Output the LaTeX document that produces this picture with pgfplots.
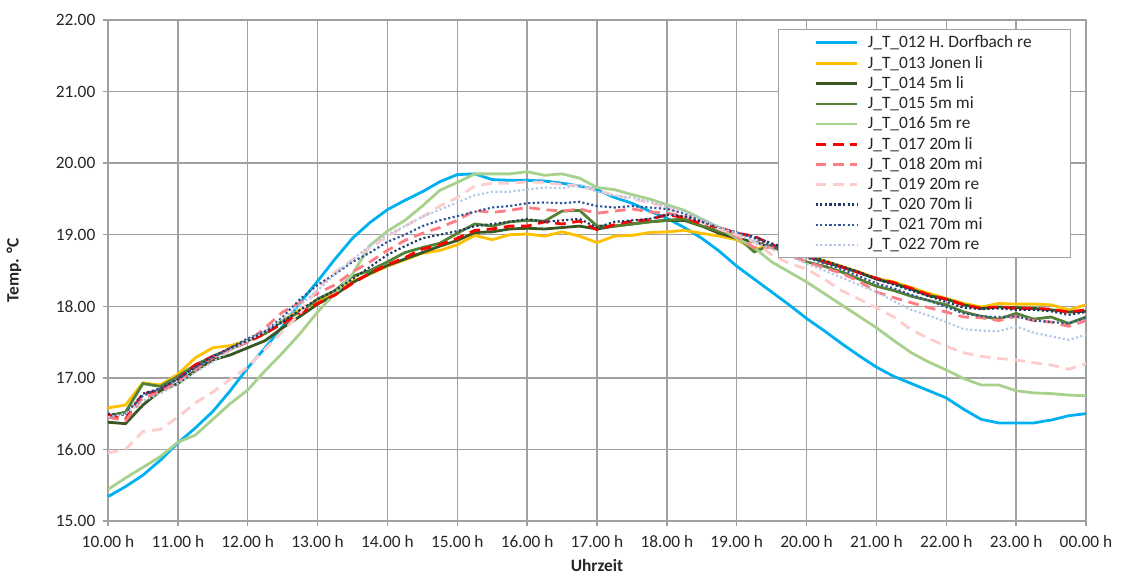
\documentclass[border=0pt]{standalone}
\usepackage{fontspec}
\setmainfont{Carlito}
\usepackage{pgfplots}
\usepackage{pgfplotstable}
\pgfplotsset{compat=1.18}

\definecolor{c012}{HTML}{00B0F0}
\definecolor{c013}{HTML}{FFC000}
\definecolor{c014}{HTML}{385723}
\definecolor{c015}{HTML}{548235}
\definecolor{c016}{HTML}{A9D18E}
\definecolor{c017}{HTML}{FF0000}
\definecolor{c018}{HTML}{FF7C80}
\definecolor{c019}{HTML}{FFCCCC}
\definecolor{c020}{HTML}{1F3864}
\definecolor{c021}{HTML}{2F5597}
\definecolor{c022}{HTML}{B4C7E7}
\definecolor{gridgray}{HTML}{A0A0A0}

% Temperatures per logger, every 15 minutes (24 = midnight)
\pgfplotstableread{
t     a012  a013  a014  a015  a016  a017  a018  a019  a020  a021  a022
10.00 15.34 16.58 16.38 16.47 15.44 16.48 16.45 15.95 16.50 16.45 16.45
10.25 15.48 16.62 16.36 16.52 15.60 16.42 16.40 16.00 16.48 16.50 16.50
10.50 15.64 16.93 16.62 16.92 15.75 16.78 16.72 16.25 16.78 16.75 16.68
10.75 15.85 16.90 16.82 16.88 15.90 16.82 16.80 16.28 16.85 16.85 16.78
11.00 16.09 17.05 16.92 17.02 16.10 16.98 16.95 16.45 16.98 16.98 16.92
11.25 16.30 17.28 17.10 17.18 16.20 17.18 17.12 16.65 17.15 17.15 17.08
11.50 16.53 17.42 17.25 17.30 16.42 17.30 17.28 16.80 17.30 17.28 17.22
11.75 16.82 17.45 17.32 17.40 16.64 17.40 17.40 16.98 17.42 17.42 17.38
12.00 17.14 17.52 17.42 17.52 16.83 17.50 17.50 17.15 17.52 17.55 17.52
12.25 17.42 17.62 17.52 17.62 17.10 17.62 17.70 17.40 17.65 17.65 17.65
12.50 17.72 17.80 17.70 17.80 17.35 17.76 17.92 17.65 17.78 17.85 17.82
12.75 18.05 17.95 17.86 17.92 17.62 17.90 18.05 17.90 17.95 18.10 18.02
13.00 18.35 18.06 18.03 18.10 17.92 18.04 18.18 18.25 18.10 18.30 18.22
13.25 18.66 18.18 18.16 18.22 18.18 18.16 18.30 18.48 18.22 18.45 18.45
13.50 18.95 18.35 18.33 18.42 18.45 18.32 18.48 18.65 18.38 18.62 18.65
13.75 19.17 18.45 18.46 18.50 18.85 18.46 18.62 18.82 18.55 18.75 18.85
14.00 19.35 18.56 18.57 18.62 19.05 18.58 18.78 18.97 18.72 18.90 19.00
14.25 19.48 18.65 18.66 18.75 19.20 18.68 18.92 19.12 18.84 19.00 19.12
14.50 19.60 18.74 18.75 18.82 19.40 18.80 19.02 19.25 18.95 19.12 19.25
14.75 19.74 18.78 18.84 18.88 19.62 18.86 19.10 19.40 19.00 19.20 19.35
15.00 19.84 18.86 18.92 19.02 19.73 18.95 19.20 19.52 19.05 19.26 19.45
15.25 19.85 18.99 19.03 19.15 19.85 19.06 19.34 19.68 19.12 19.32 19.55
15.50 19.77 18.93 19.04 19.12 19.85 19.08 19.31 19.72 19.15 19.38 19.60
15.75 19.76 19.00 19.08 19.18 19.85 19.12 19.34 19.72 19.18 19.40 19.60
16.00 19.76 19.01 19.09 19.20 19.88 19.12 19.38 19.74 19.22 19.44 19.63
16.25 19.75 18.98 19.08 19.19 19.83 19.18 19.35 19.73 19.18 19.45 19.66
16.50 19.72 19.04 19.10 19.33 19.85 19.15 19.33 19.70 19.20 19.44 19.65
16.75 19.68 18.98 19.12 19.34 19.79 19.19 19.36 19.68 19.22 19.46 19.70
17.00 19.63 18.89 19.08 19.12 19.66 19.07 19.30 19.62 19.10 19.40 19.60
17.25 19.52 18.98 19.12 19.12 19.63 19.14 19.33 19.55 19.18 19.38 19.55
17.50 19.44 18.99 19.15 19.15 19.56 19.19 19.36 19.50 19.20 19.40 19.52
17.75 19.33 19.03 19.18 19.18 19.50 19.21 19.32 19.45 19.22 19.38 19.46
18.00 19.23 19.04 19.20 19.20 19.42 19.28 19.30 19.38 19.28 19.36 19.40
18.25 19.10 19.06 19.20 19.22 19.34 19.24 19.26 19.28 19.26 19.30 19.32
18.50 18.95 19.02 19.12 19.12 19.22 19.15 19.18 19.18 19.18 19.20 19.22
18.75 18.77 18.98 19.02 19.05 19.10 19.10 19.08 19.08 19.10 19.10 19.10
19.00 18.56 18.93 18.95 18.98 18.95 19.02 18.98 19.00 19.03 19.03 19.02
19.25 18.38 18.80 18.90 18.76 18.82 18.98 18.82 18.90 18.97 18.95 18.90
19.50 18.20 18.84 18.82 18.86 18.62 18.86 18.82 18.72 18.88 18.85 18.80
19.75 18.02 18.74 18.76 18.72 18.48 18.78 18.72 18.60 18.80 18.76 18.70
20.00 17.83 18.70 18.70 18.62 18.34 18.70 18.62 18.52 18.72 18.68 18.60
20.25 17.66 18.64 18.62 18.56 18.18 18.62 18.54 18.38 18.64 18.60 18.50
20.50 17.48 18.56 18.55 18.48 18.02 18.55 18.46 18.22 18.56 18.52 18.40
20.75 17.31 18.48 18.47 18.38 17.86 18.47 18.35 18.10 18.48 18.42 18.30
21.00 17.15 18.39 18.38 18.28 17.70 18.39 18.20 17.98 18.38 18.32 18.20
21.25 17.02 18.34 18.32 18.22 17.52 18.33 18.12 17.85 18.30 18.25 18.07
21.50 16.92 18.26 18.24 18.14 17.35 18.25 18.05 17.67 18.22 18.16 17.95
21.75 16.82 18.18 18.15 18.08 17.22 18.16 17.98 17.55 18.14 18.08 17.87
22.00 16.72 18.11 18.10 18.02 17.11 18.10 17.92 17.44 18.06 17.99 17.78
22.25 16.56 18.04 18.02 17.92 16.99 18.02 17.85 17.35 17.98 17.90 17.68
22.50 16.42 17.99 17.97 17.86 16.90 17.97 17.84 17.30 17.96 17.86 17.66
22.75 16.37 18.04 17.99 17.82 16.90 17.99 17.80 17.27 17.97 17.85 17.65
23.00 16.37 18.03 17.98 17.90 16.82 17.97 17.86 17.25 17.95 17.86 17.72
23.25 16.37 18.03 17.97 17.82 16.79 17.97 17.80 17.21 17.95 17.80 17.63
23.50 16.41 18.02 17.95 17.85 16.78 17.96 17.78 17.18 17.93 17.78 17.58
23.75 16.47 17.95 17.92 17.76 16.76 17.92 17.72 17.12 17.88 17.76 17.53
24.00 16.50 18.02 17.93 17.85 16.75 17.95 17.80 17.20 17.92 17.84 17.60
}\temps

\begin{document}
\begin{tikzpicture}
\begin{axis}[
  scale only axis,
  width=733.5pt, height=375.75pt,
  xmin=10, xmax=24, ymin=15, ymax=22,
  xtick={10,...,24},
  xticklabels={10.00 h,11.00 h,12.00 h,13.00 h,14.00 h,15.00 h,16.00 h,17.00 h,18.00 h,19.00 h,20.00 h,21.00 h,22.00 h,23.00 h,00.00 h},
  ytick={15,...,22},
  yticklabels={15.00,16.00,17.00,18.00,19.00,20.00,21.00,22.00},
  grid=major,
  grid style={line width=1pt, color=gridgray},
  axis line style={line width=1pt, color=gridgray},
  tick style={line width=1pt, color=gridgray},
  tick align=outside, major tick length=4pt,
  xtick pos=left, ytick pos=left,
  ticklabel style={font=\fontsize{13}{15}\selectfont, text=black!85},
  xticklabel style={yshift=-3.5pt},
  yticklabel style={xshift=-2pt},
  xlabel={\textbf{Uhrzeit}},
  ylabel={\textbf{Temp. °C}},
  label style={font=\fontsize{13}{15}\selectfont, text=black!85},
  xlabel style={at={(axis description cs:0.5,-0.0898)}, anchor=center},
  ylabel style={at={(axis description cs:-0.0961,0.5)}, anchor=center},
  legend cell align=left,
  legend image code/.code={\draw[#1] (0pt,0pt) -- (31pt,0pt);},
  legend style={
    at={(0.9847,0.982)}, anchor=north east,
    draw=gridgray, line width=1pt, fill=white,
    font=\fontsize{13}{15}\selectfont,
    inner xsep=27pt, inner ysep=2.5pt,
    row sep=0.75pt,
    nodes={text=black!85},
    /tikz/every odd column/.append style={column sep=5pt},
  },
  every axis plot/.append style={line width=2.1pt},
]
\addplot[c012, solid] table[x=t, y=a012] {\temps};
\addlegendentry{J\_T\_012 H. Dorfbach re}
\addplot[c013, solid] table[x=t, y=a013] {\temps};
\addlegendentry{J\_T\_013 Jonen li}
\addplot[c014, solid] table[x=t, y=a014] {\temps};
\addlegendentry{J\_T\_014 5m li}
\addplot[c015, solid] table[x=t, y=a015] {\temps};
\addlegendentry{J\_T\_015 5m mi}
\addplot[c016, solid] table[x=t, y=a016] {\temps};
\addlegendentry{J\_T\_016 5m re}
\addplot[c017, dash pattern=on 8pt off 5pt] table[x=t, y=a017] {\temps};
\addlegendentry{J\_T\_017 20m li}
\addplot[c018, dash pattern=on 8pt off 5pt] table[x=t, y=a018] {\temps};
\addlegendentry{J\_T\_018 20m mi}
\addplot[c019, dash pattern=on 8pt off 5pt] table[x=t, y=a019] {\temps};
\addlegendentry{J\_T\_019 20m re}
\addplot[c020, line width=1.6pt, dash pattern=on 1.6pt off 1.8pt] table[x=t, y=a020] {\temps};
\addlegendentry{J\_T\_020 70m li}
\addplot[c021, line width=1.6pt, dash pattern=on 1.6pt off 1.8pt] table[x=t, y=a021] {\temps};
\addlegendentry{J\_T\_021 70m mi}
\addplot[c022, line width=1.6pt, dash pattern=on 1.6pt off 1.8pt] table[x=t, y=a022] {\temps};
\addlegendentry{J\_T\_022 70m re}
\end{axis}
\pgfresetboundingbox
\path[use as bounding box]
  ([xshift=-81pt, yshift=-42.75pt]current axis.south west)
  rectangle ([xshift=27.75pt, yshift=15pt]current axis.north east);
\end{tikzpicture}
\end{document}
